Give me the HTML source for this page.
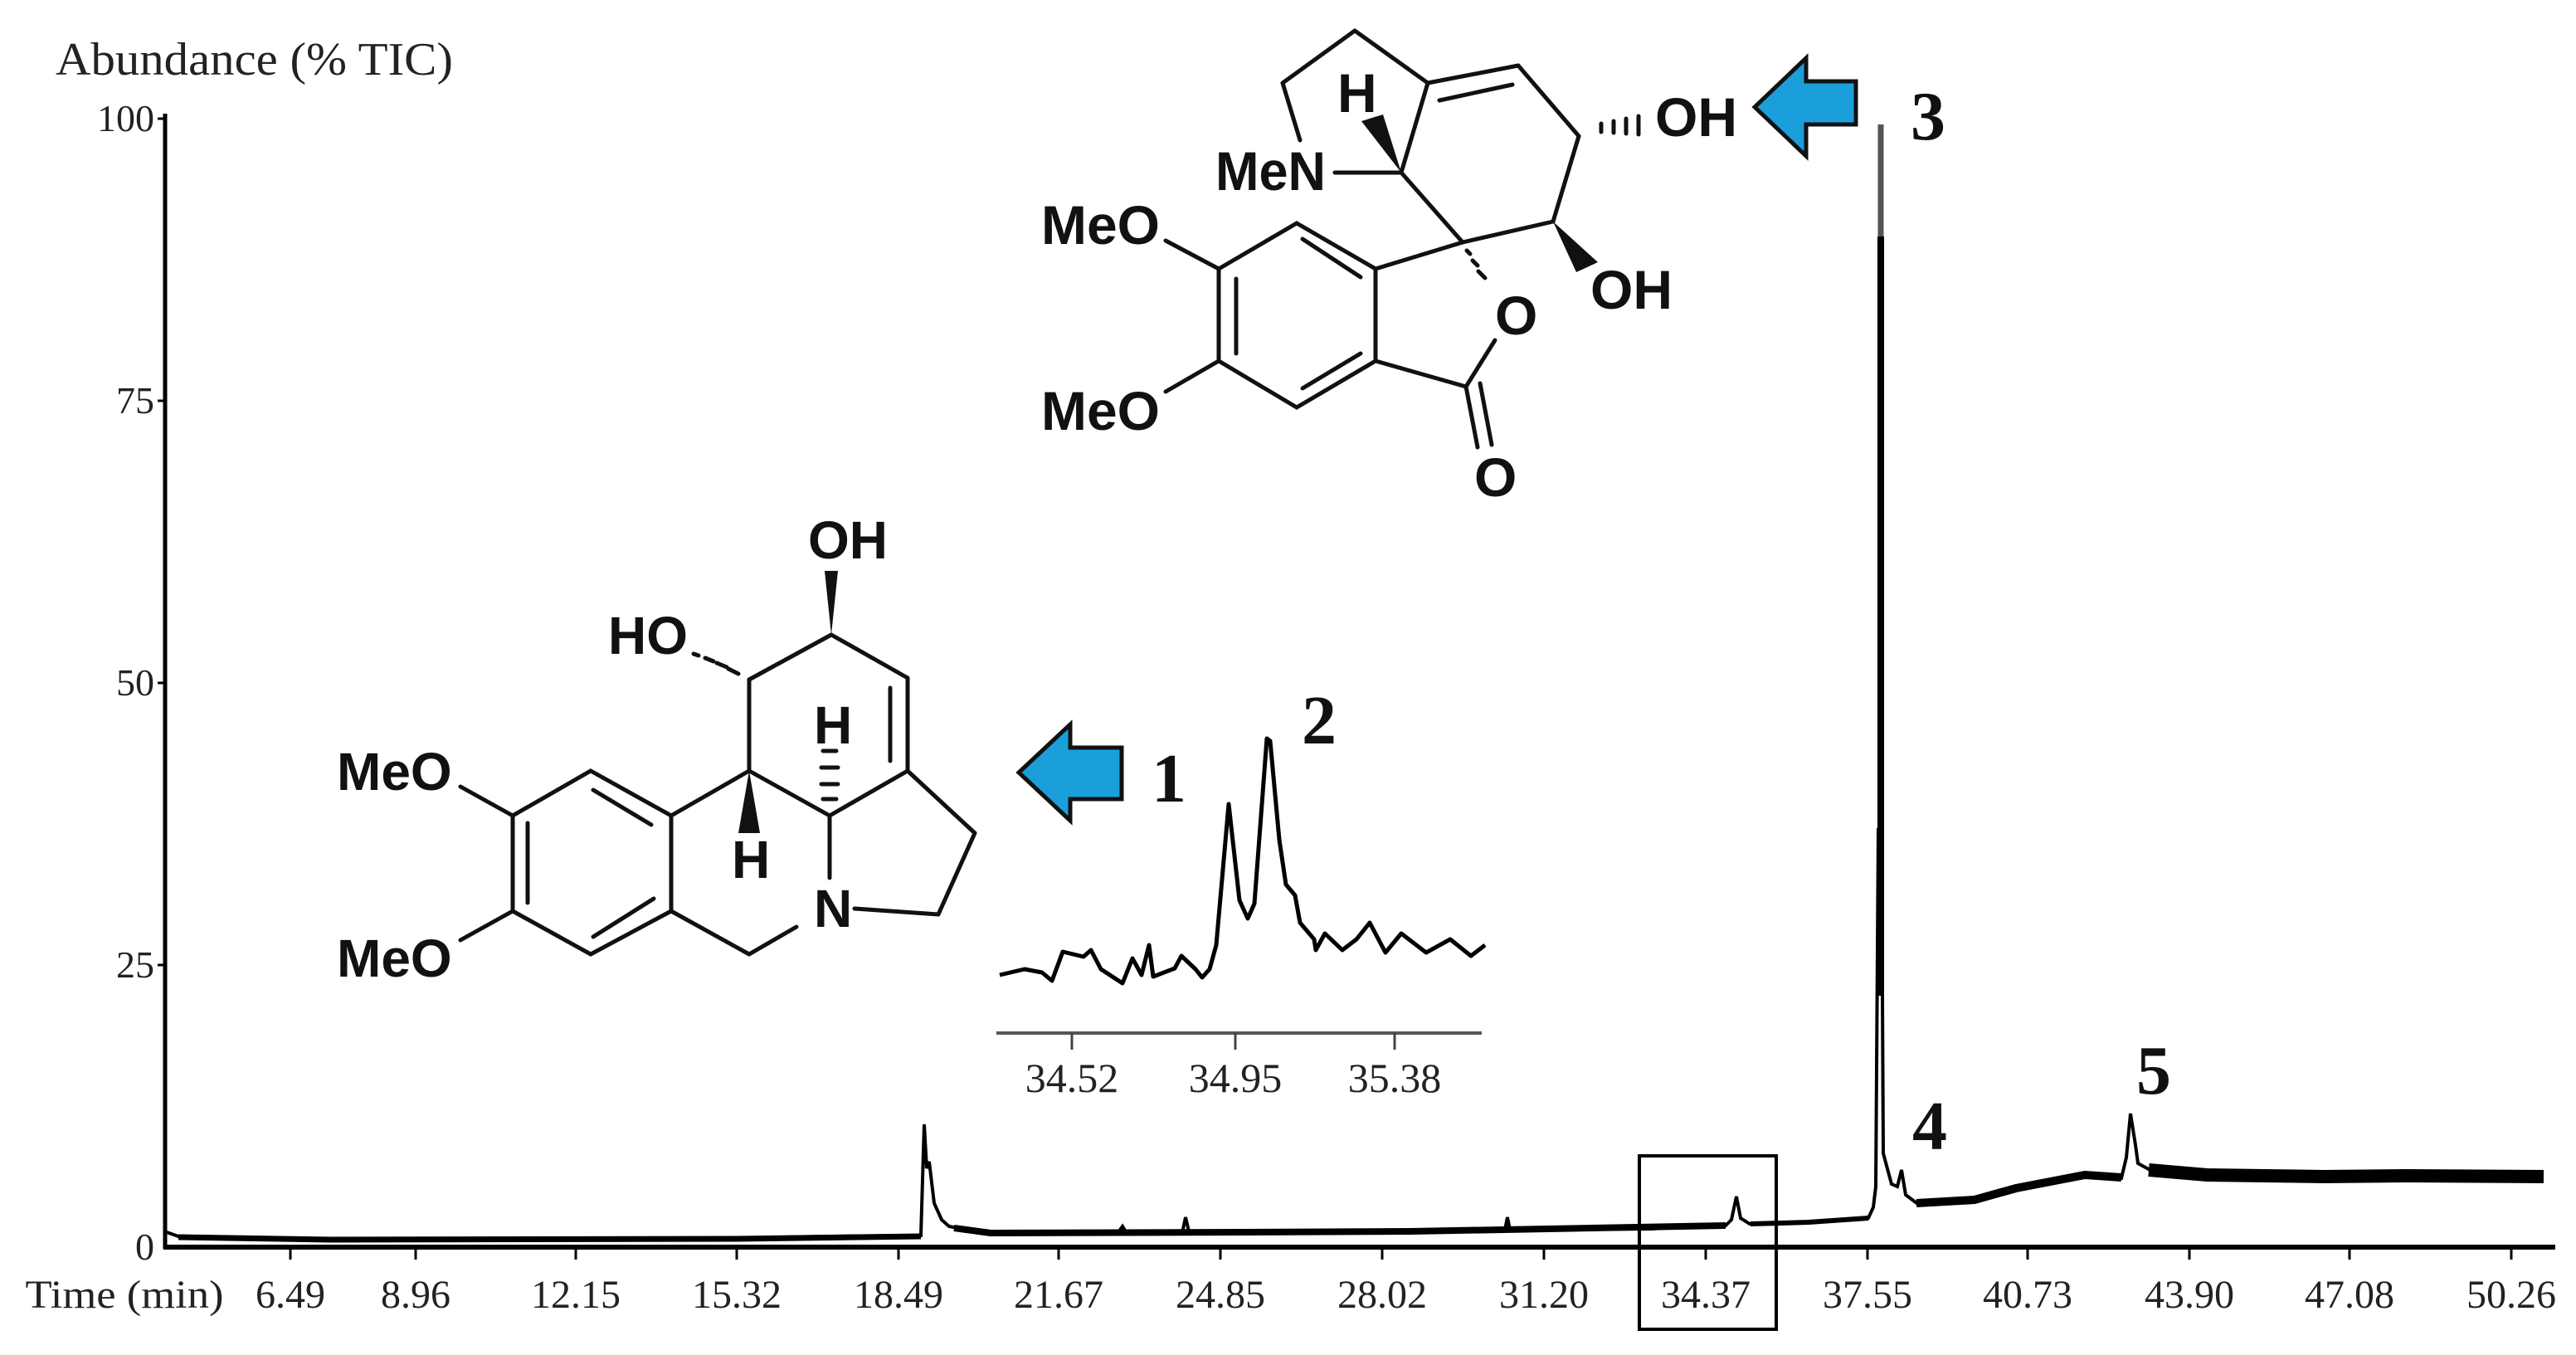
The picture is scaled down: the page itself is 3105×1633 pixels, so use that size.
<!DOCTYPE html>
<html><head><meta charset="utf-8"><style>
html,body{margin:0;padding:0;background:#fff;}
svg{display:block;}
.s{font-family:"Liberation Sans",Arial,sans-serif;font-weight:bold;fill:#111;}
.r{font-family:"Liberation Serif","Times New Roman",serif;fill:#222;}
.b{font-family:"Liberation Serif","Times New Roman",serif;font-weight:bold;fill:#111;}
</style></head><body>
<svg width="3105" height="1633" viewBox="0 0 3105 1633" xmlns="http://www.w3.org/2000/svg">
<rect width="3105" height="1633" fill="#fff"/>
<!-- axes -->
<text class="r" x="67" y="90" font-size="56" textLength="479" lengthAdjust="spacingAndGlyphs">Abundance  (% TIC)</text>
<line x1="199" y1="137" x2="199" y2="1505" stroke="#000" stroke-width="5"/>
<line x1="197" y1="1503" x2="3080" y2="1503" stroke="#000" stroke-width="6"/>
<g stroke="#000" stroke-width="3">
<line x1="190" y1="143" x2="199" y2="143"/><line x1="190" y1="483" x2="199" y2="483"/><line x1="190" y1="823" x2="199" y2="823"/><line x1="190" y1="1163" x2="199" y2="1163"/>
</g>
<g class="r" font-size="46" text-anchor="end">
<text x="186" y="158">100</text><text x="186" y="498">75</text><text x="186" y="838">50</text><text x="186" y="1178">25</text><text x="186" y="1518">0</text>
</g>
<g stroke="#000" stroke-width="3">
<line x1="350" y1="1503" x2="350" y2="1518"/><line x1="501" y1="1503" x2="501" y2="1518"/><line x1="694" y1="1503" x2="694" y2="1518"/><line x1="888" y1="1503" x2="888" y2="1518"/><line x1="1083" y1="1503" x2="1083" y2="1518"/><line x1="1276" y1="1503" x2="1276" y2="1518"/><line x1="1471" y1="1503" x2="1471" y2="1518"/><line x1="1666" y1="1503" x2="1666" y2="1518"/><line x1="1861" y1="1503" x2="1861" y2="1518"/><line x1="2056" y1="1503" x2="2056" y2="1518"/><line x1="2251" y1="1503" x2="2251" y2="1518"/><line x1="2444" y1="1503" x2="2444" y2="1518"/><line x1="2639" y1="1503" x2="2639" y2="1518"/><line x1="2832" y1="1503" x2="2832" y2="1518"/><line x1="3027" y1="1503" x2="3027" y2="1518"/>
</g>
<g class="r" font-size="48" text-anchor="middle">
<text x="150" y="1576" textLength="239" lengthAdjust="spacingAndGlyphs">Time (min)</text>
<text x="350" y="1576">6.49</text><text x="501" y="1576">8.96</text><text x="694" y="1576">12.15</text><text x="888" y="1576">15.32</text><text x="1083" y="1576">18.49</text><text x="1276" y="1576">21.67</text><text x="1471" y="1576">24.85</text><text x="1666" y="1576">28.02</text><text x="1861" y="1576">31.20</text><text x="2056" y="1576">34.37</text><text x="2251" y="1576">37.55</text><text x="2444" y="1576">40.73</text><text x="2639" y="1576">43.90</text><text x="2832" y="1576">47.08</text><text x="3027" y="1576">50.26</text>
</g>
<rect x="1976" y="1393" width="165" height="209" fill="none" stroke="#000" stroke-width="4"/>
<!-- noise bands -->
<polyline fill="none" stroke="#000" stroke-width="7" points="215,1491 400,1494 886,1493 1110,1490"/>
<polyline fill="none" stroke="#000" stroke-width="8" points="1150,1480 1194,1486 1500,1485 1700,1484 2080,1477"/>
<polyline fill="none" stroke="#000" stroke-width="6" points="2110,1475 2180,1473 2252,1468"/>
<polyline fill="none" stroke="#000" stroke-width="10" points="2310,1450 2380,1446 2430,1432 2513,1416 2557,1419"/>
<polyline fill="none" stroke="#000" stroke-width="16" points="2590,1410 2660,1416 2800,1418 2900,1417 3066,1418"/>
<!-- trace -->
<polyline fill="none" stroke="#000" stroke-width="4" points="201,1485 215,1490 259,1493 400,1494 600,1494 886,1492 1000,1490 1110,1489 1114,1355 1117,1408 1120,1400 1126,1450 1135,1470 1144,1478 1170,1483 1194,1486 1300,1487 1348,1485 1353,1478 1358,1486 1425,1486 1429,1467 1433,1484 1500,1485 1700,1484 1791,1483 1814,1482 1817,1467 1820,1482 1990,1481 2060,1477 2080,1477 2087,1470 2093,1442 2098,1468 2109,1475 2180,1473 2252,1468 2258,1455 2261,1430 2264,1000 2266,1000 2269,1200 2270,1390 2280,1427 2287,1430 2292,1410 2297,1440 2313,1452 2380,1447 2430,1433 2513,1417 2557,1420 2563,1395 2568,1342 2574,1380 2577,1402 2597,1413 2660,1418 2800,1420 2900,1419 3000,1420 3066,1420"/>
<line x1="2267" y1="150" x2="2267" y2="290" stroke="#555" stroke-width="7"/>
<line x1="2267" y1="285" x2="2267" y2="1200" stroke="#000" stroke-width="8"/>
<!-- inset -->
<polyline fill="none" stroke="#000" stroke-width="5" stroke-linejoin="round" points="1205,1175 1235,1168 1256,1172 1268,1182 1281,1147 1306,1153 1315,1145 1327,1168 1353,1185 1365,1155 1376,1175 1385,1139 1390,1177 1416,1167 1424,1152 1441,1168 1449,1178 1458,1168 1466,1139 1481,969 1494,1085 1504,1107 1512,1089 1527,890 1531,893 1542,1012 1550,1066 1561,1079 1567,1112 1584,1132 1586,1145 1597,1125 1618,1145 1635,1132 1651,1112 1670,1148 1689,1125 1719,1148 1748,1132 1773,1152 1790,1139"/>
<line x1="1201" y1="1245" x2="1786" y2="1245" stroke="#555" stroke-width="4"/>
<g stroke="#444" stroke-width="3"><line x1="1292" y1="1245" x2="1292" y2="1265"/><line x1="1489" y1="1245" x2="1489" y2="1265"/><line x1="1681" y1="1245" x2="1681" y2="1265"/></g>
<g class="r" font-size="50" text-anchor="middle" fill="#333"><text x="1292" y="1316">34.52</text><text x="1489" y="1316">34.95</text><text x="1681" y="1316">35.38</text></g>
<!-- arrows -->
<polygon points="1228,931 1290,873 1290,901 1352,901 1352,963 1290,963 1290,989" fill="#1a9fdb" stroke="#111" stroke-width="5" stroke-linejoin="miter"/>
<polygon points="2115,129 2177,70 2177,98 2237,98 2237,150 2177,150 2177,188" fill="#1a9fdb" stroke="#111" stroke-width="5"/>
<g class="b" font-size="84">
<text x="1388" y="966">1</text><text x="1569" y="896">2</text><text x="2303" y="168">3</text><text x="2305" y="1385">4</text><text x="2575" y="1318">5</text>
</g>
<!-- structure 1 -->
<g stroke="#111" stroke-width="5" fill="none" stroke-linecap="round">
<line x1="1002" y1="765" x2="903" y2="819"/><line x1="1002" y1="765" x2="1094" y2="817"/>
<line x1="903" y1="819" x2="903" y2="929"/><line x1="1094" y1="817" x2="1094" y2="929"/>
<line x1="1073" y1="829" x2="1073" y2="917"/>
<line x1="1094" y1="929" x2="1000" y2="983"/><line x1="903" y1="929" x2="1000" y2="983"/>
<line x1="1094" y1="929" x2="1175" y2="1004"/><line x1="1175" y1="1004" x2="1131" y2="1102"/><line x1="1131" y1="1102" x2="1030" y2="1095"/>
<line x1="1000" y1="983" x2="1000" y2="1058"/>
<line x1="903" y1="929" x2="809" y2="983"/>
<polygon points="712,929 809,983 809,1098 712,1150 618,1098 618,983"/>
<line x1="715" y1="952" x2="785" y2="994"/><line x1="636" y1="992" x2="636" y2="1088"/><line x1="715" y1="1129" x2="788" y2="1083"/>
<line x1="809" y1="1098" x2="903" y2="1150"/><line x1="903" y1="1150" x2="960" y2="1117"/>
<line x1="555" y1="948" x2="618" y2="983"/><line x1="555" y1="1133" x2="618" y2="1098"/>
<line x1="836" y1="788" x2="842" y2="790"/><line x1="850" y1="793" x2="860" y2="797"/><line x1="864" y1="799" x2="876" y2="804"/><line x1="878" y1="806" x2="890" y2="812"/>
<line x1="992" y1="905" x2="1008" y2="905"/><line x1="990" y1="925" x2="1010" y2="925"/><line x1="990" y1="945" x2="1010" y2="945"/><line x1="992" y1="963" x2="1008" y2="963"/>
</g>
<polygon points="1002,765 994,688 1010,688" fill="#111"/>
<polygon points="903,929 890,1004 916,1004" fill="#111"/>
<g class="s" font-size="64">
<text x="974" y="673">OH</text><text x="733" y="788">HO</text><text x="406" y="952">MeO</text><text x="406" y="1177">MeO</text>
<text x="981" y="896">H</text><text x="882" y="1058">H</text><text x="981" y="1117">N</text>
</g>
<!-- structure 3 -->
<g stroke="#111" stroke-width="5" fill="none" stroke-linecap="round">
<line x1="1633" y1="37" x2="1546" y2="100"/><line x1="1546" y1="100" x2="1567" y2="169"/>
<line x1="1633" y1="37" x2="1721" y2="100"/>
<line x1="1609" y1="208" x2="1689" y2="208"/>
<line x1="1689" y1="208" x2="1721" y2="100"/>
<line x1="1721" y1="100" x2="1830" y2="79"/><line x1="1735" y1="121" x2="1823" y2="102"/>
<line x1="1830" y1="79" x2="1903" y2="164"/><line x1="1903" y1="164" x2="1872" y2="267"/>
<line x1="1872" y1="267" x2="1763" y2="292"/><line x1="1689" y1="208" x2="1763" y2="292"/>
<polygon points="1563,269 1658,324 1658,435 1563,491 1469,435 1469,324"/>
<line x1="1570" y1="288" x2="1640" y2="334"/><line x1="1490" y1="336" x2="1490" y2="426"/><line x1="1570" y1="468" x2="1640" y2="426"/>
<line x1="1763" y1="292" x2="1658" y2="324"/>
<line x1="1802" y1="410" x2="1767" y2="466"/><line x1="1767" y1="466" x2="1658" y2="435"/>
<line x1="1767" y1="466" x2="1781" y2="539"/><line x1="1784" y1="462" x2="1798" y2="536"/>
<line x1="1405" y1="290" x2="1469" y2="324"/><line x1="1405" y1="472" x2="1469" y2="435"/>
<line x1="1768" y1="302" x2="1772" y2="306"/><line x1="1775" y1="314" x2="1781" y2="320"/><line x1="1782" y1="327" x2="1790" y2="335"/>
<line x1="1930" y1="149" x2="1930" y2="159"/><line x1="1945" y1="146" x2="1945" y2="160"/><line x1="1960" y1="143" x2="1960" y2="161"/><line x1="1975" y1="140" x2="1975" y2="162"/>
</g>
<polygon points="1689,208 1641,146 1667,138" fill="#111"/>
<polygon points="1872,267 1900,328 1926,316" fill="#111"/>
<g class="s" font-size="66">
<text x="1465" y="229" textLength="133" lengthAdjust="spacingAndGlyphs">MeN</text><text x="1612" y="135">H</text><text x="1995" y="164">OH</text><text x="1917" y="372">OH</text>
<text x="1802" y="403">O</text><text x="1777" y="598">O</text><text x="1255" y="294">MeO</text><text x="1255" y="518">MeO</text>
</g>
</svg>
</body></html>
